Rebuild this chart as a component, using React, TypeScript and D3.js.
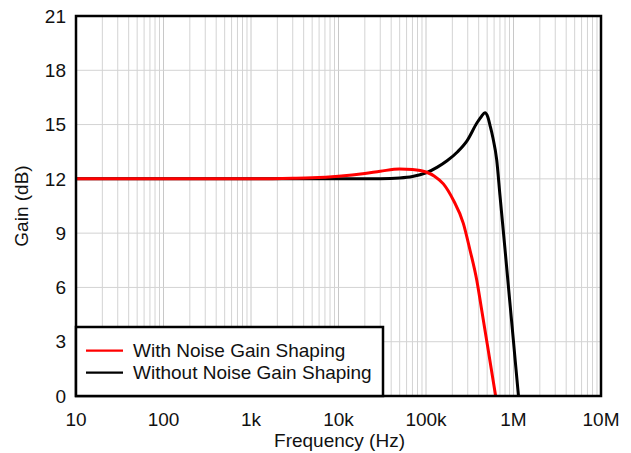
import React from "react";
import * as d3 from "d3";

const xTickValues = [10, 100, 1e3, 1e4, 1e5, 1e6, 1e7];
const xTickLabels = ["10", "100", "1k", "10k", "100k", "1M", "10M"];
const yTickValues = [0, 3, 6, 9, 12, 15, 18, 21];

const withFreq = [10, 100, 1000, 3000, 5000, 10000, 20000, 30000, 50000, 70000, 100000, 125000, 158000, 205000, 267000, 318000, 380000, 433000, 500000, 625000, 660000];
const withGain = [12, 12, 12, 12.03, 12.06, 12.15, 12.3, 12.42, 12.55, 12.52, 12.38, 12.15, 11.72, 10.83, 9.54, 8.07, 6.41, 4.75, 2.9, 0, -0.7];

const withoutFreq = [10, 1000, 10000, 30000, 50000, 70000, 100000, 135000, 174000, 230000, 294000, 383000, 430000, 472000, 510000, 538000, 580000, 643000, 700000, 800000, 900000, 1000000, 1140000, 1200000];
const withoutGain = [12, 12, 12, 12.01, 12.05, 12.13, 12.33, 12.65, 13.0, 13.5, 14.1, 15.1, 15.45, 15.65, 15.4, 14.97, 14.3, 13.04, 11.1, 8.1, 5.4, 3.0, 0, -1.1];

const seriesNames = ["With Noise Gain Shaping", "Without Noise Gain Shaping"];
const seriesColors = ["#ff0000", "#000000"];

export default function App() {
  const W = 631, H = 453;
  const left = 76, right = 601, top = 16, bottom = 396;
  const x = d3.scaleLog().domain([10, 1e7]).range([left, right]);
  const y = d3.scaleLinear().domain([0, 21]).range([bottom, top]);

  const minor: number[] = [];
  for (let d = 10; d < 1e7; d *= 10) for (let k = 2; k <= 9; k++) minor.push(d * k);

  const line = d3.line<[number, number]>().x(d => x(d[0])).y(d => y(d[1])).curve(d3.curveMonotoneX);
  const redPath = line(withFreq.map((f, i) => [f, withGain[i]]))!;
  const blackPath = line(withoutFreq.map((f, i) => [f, withoutGain[i]]))!;

  const font = "Arial, 'Liberation Sans', sans-serif";
  const fs = 19;
  const tc = "#111";

  return (
    <svg width={W} height={H} style={{ position: "absolute", left: 0, top: 0 }} fontFamily={font}>
      <rect x={0} y={0} width={W} height={H} fill="#fff" />
      <defs>
        <clipPath id="plot">
          <rect x={left} y={top} width={right - left} height={bottom - top} />
        </clipPath>
      </defs>
      {minor.map((v, i) => (
        <line key={"m" + i} x1={x(v)} x2={x(v)} y1={top} y2={bottom} stroke="#d3d3d3" strokeWidth={1} />
      ))}
      {xTickValues.map((v, i) => (
        <line key={"M" + i} x1={x(v)} x2={x(v)} y1={top} y2={bottom} stroke="#c8c8c8" strokeWidth={1} />
      ))}
      {yTickValues.map((v, i) => (
        <line key={"h" + i} x1={left} x2={right} y1={y(v)} y2={y(v)} stroke="#d3d3d3" strokeWidth={1} />
      ))}
      <g clipPath="url(#plot)">
        <path d={blackPath} fill="none" stroke={seriesColors[1]} strokeWidth={3} />
        <path d={redPath} fill="none" stroke={seriesColors[0]} strokeWidth={3} />
      </g>
      <rect x={left} y={top} width={right - left} height={bottom - top} fill="none" stroke="#000" strokeWidth={2.5} />
      {yTickValues.map((v, i) => (
        <text key={"yt" + i} x={66} y={y(v)} dy="0.35em" textAnchor="end" fontSize={fs} fill={tc}>{v}</text>
      ))}
      {xTickValues.map((v, i) => (
        <text key={"xt" + i} x={x(v)} y={426} textAnchor="middle" fontSize={fs} fill={tc}>{xTickLabels[i]}</text>
      ))}
      <text x={339.5} y={446.5} textAnchor="middle" fontSize={fs} fill={tc}>Frequency (Hz)</text>
      <text transform={`translate(27.5, ${(top + bottom) / 2}) rotate(-90)`} textAnchor="middle" fontSize={fs} fill={tc}>Gain (dB)</text>
      <g>
        <rect x={left} y={327} width={383 - left} height={bottom - 327} fill="#fff" stroke="#000" strokeWidth={2.5} />
        {seriesNames.map((n, i) => (
          <g key={n}>
            <line x1={86} x2={123} y1={350.7 + i * 22} y2={350.7 + i * 22} stroke={seriesColors[i]} strokeWidth={2.2} />
            <text x={133} y={350.7 + i * 22} dy="0.35em" fontSize={fs} fill={tc}>{n}</text>
          </g>
        ))}
      </g>
    </svg>
  );
}
